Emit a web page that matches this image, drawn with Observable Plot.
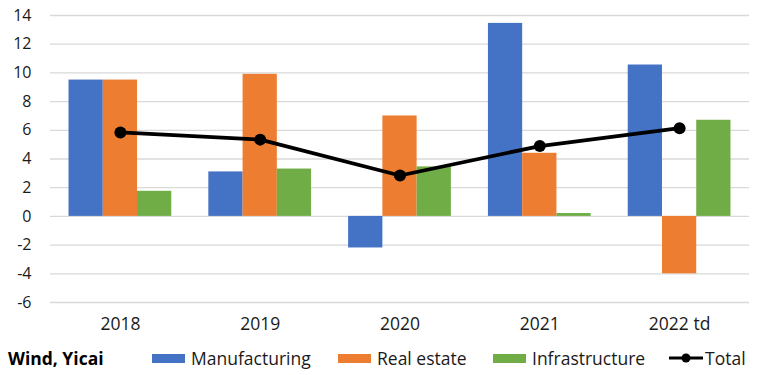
<!DOCTYPE html>
<html>
<head>
<meta charset="utf-8">
<script src="https://cdn.jsdelivr.net/npm/d3@7"></script>
<script src="https://cdn.jsdelivr.net/npm/@observablehq/plot@0.6"></script>
<style>
  html, body { margin: 0; padding: 0; background: #fff; }
  #wrap { position: relative; width: 762px; height: 375px; font-family: "Open Sans", sans-serif; color: #000; }
  #legend { position: absolute; left: 0; top: 346px; width: 762px; height: 24px; font-size: 17.5px; }
  #legend .item { position: absolute; top: 0; display: flex; align-items: center; height: 24px; white-space: nowrap; color: #1a1a1a; }
  #legend .src { font-weight: bold; left: 8px; color: #000; }
  #legend .sw { width: 33px; height: 9px; margin-right: 6px; }
</style>
</head>
<body>
<div id="wrap">
  <div id="chart"></div>
  <div id="legend"></div>
</div>
<script>
const categories = ["2018", "2019", "2020", "2021", "2022 td"];
const seriesNames = ["Manufacturing", "Real estate", "Infrastructure"];
const manufacturing = [9.5, 3.1, -2.2, 13.45, 10.55];
const realEstate = [9.5, 9.9, 7.0, 4.4, -4.0];
const infrastructure = [1.75, 3.3, 3.45, 0.2, 6.7];
const total = [5.85, 5.35, 2.85, 4.9, 6.15];
const yTicks = [-6, -4, -2, 0, 2, 4, 6, 8, 10, 12, 14];
const colors = ["#4472C4", "#ED7D31", "#70AD47"];

const seriesValues = [manufacturing, realEstate, infrastructure];
const barData = [];
seriesValues.forEach((vals, k) => vals.forEach((v, i) => barData.push({i, k, series: seriesNames[k], value: v})));
const lineData = total.map((v, i) => ({i, value: v}));

const bw = 0.245; // bar width as fraction of a category slot
const chart = Plot.plot({
  width: 762,
  height: 340,
  marginLeft: 50,
  marginRight: 13,
  marginTop: 15,
  marginBottom: 38,
  style: {fontFamily: "'Open Sans', sans-serif", fontSize: "15px", color: "#1a1a1a", background: "#fff"},
  x: {domain: [-0.5, 4.5], axis: null},
  y: {domain: [-6, 14], axis: null},
  marks: [
    Plot.ruleY(yTicks, {stroke: "#d9d9d9", strokeWidth: 1.3}),
    Plot.rectY(barData, {
      x1: d => d.i + (d.k - 1.5) * bw,
      x2: d => d.i + (d.k - 0.5) * bw,
      y1: 0,
      y2: "value",
      fill: d => colors[d.k]
    }),
    Plot.line(lineData, {x: "i", y: "value", stroke: "#000", strokeWidth: 3.8}),
    Plot.dot(lineData, {x: "i", y: "value", r: 6, fill: "#000", stroke: "none"}),
    Plot.axisY(yTicks, {tickSize: 0, tickPadding: 19, fontSize: 16, label: null, tickFormat: d => d < 0 ? "-" + Math.abs(d) : String(d)}),
    Plot.axisX(categories.map((c, i) => i), {tickSize: 0, tickPadding: 15, fontSize: 17.5, label: null, tickFormat: i => categories[i]})
  ]
});
document.getElementById("chart").appendChild(chart);

const legend = document.getElementById("legend");
const items = [
  {cls: "src", left: 8, html: "Wind, Yicai"},
  {left: 152, sw: colors[0], text: seriesNames[0]},
  {left: 338, sw: colors[1], text: seriesNames[1]},
  {left: 493, sw: colors[2], text: seriesNames[2]},
  {left: 669, line: true, text: "Total"}
];
for (const it of items) {
  const el = document.createElement("div");
  el.className = "item" + (it.cls ? " " + it.cls : "");
  el.style.left = it.left + "px";
  if (it.html) el.textContent = it.html;
  else {
    if (it.line) {
      el.innerHTML = '<svg width="34" height="14" style="margin-right:2px"><line x1="0" y1="7" x2="34" y2="7" stroke="#000" stroke-width="3"/><circle cx="17" cy="7" r="4.5" fill="#000"/></svg>';
    } else {
      const sw = document.createElement("span");
      sw.className = "sw";
      sw.style.background = it.sw;
      el.appendChild(sw);
    }
    el.appendChild(document.createTextNode(it.text));
  }
  legend.appendChild(el);
}
</script>
</body>
</html>
